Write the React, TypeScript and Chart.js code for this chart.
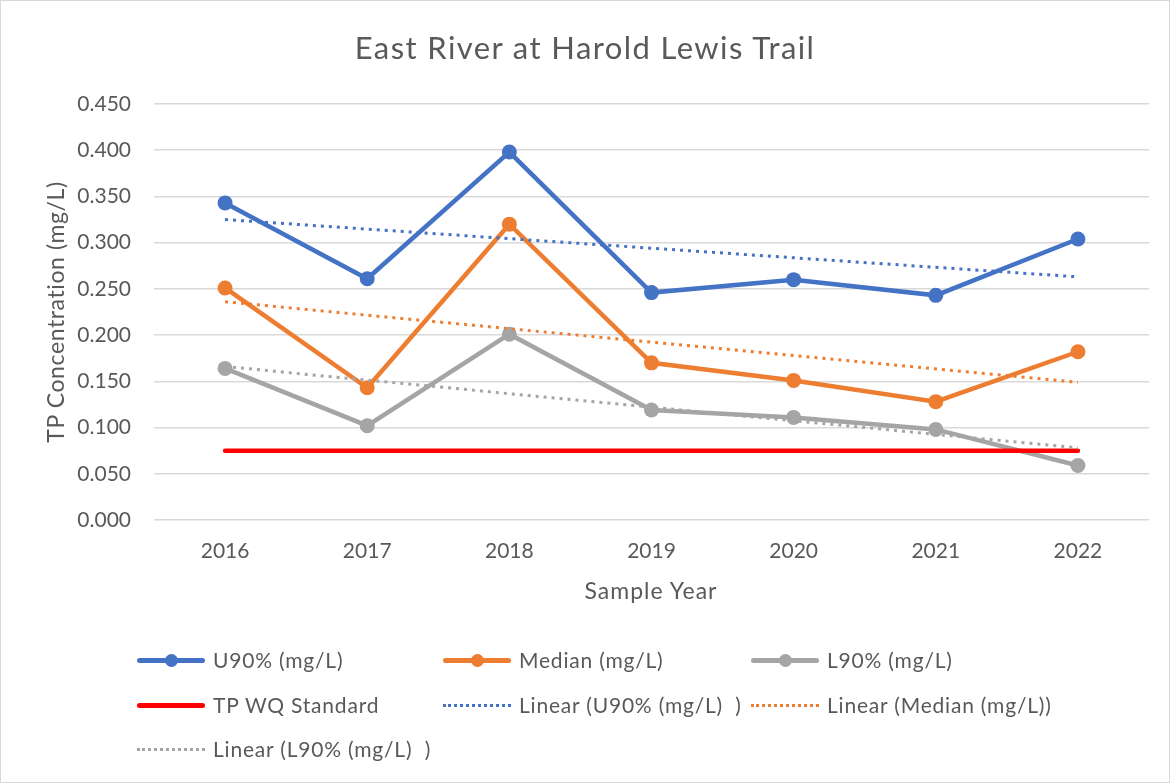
import React, { useEffect, useRef } from "react";
import { Chart, registerables } from "chart.js";

Chart.register(...registerables);

const years = ["2016", "2017", "2018", "2019", "2020", "2021", "2022"];
const u90 = [0.343, 0.261, 0.398, 0.246, 0.26, 0.243, 0.304];
const median = [0.251, 0.143, 0.32, 0.17, 0.151, 0.128, 0.182];
const l90 = [0.164, 0.102, 0.201, 0.119, 0.111, 0.098, 0.059];
const standard = [0.075, 0.075, 0.075, 0.075, 0.075, 0.075, 0.075];
const u90Trend = [0.325, null, null, null, null, null, 0.263];
const medianTrend = [0.236, null, null, null, null, null, 0.149];
const l90Trend = [0.166, null, null, null, null, null, 0.078];
const yTicks = [0, 0.05, 0.1, 0.15, 0.2, 0.25, 0.3, 0.35, 0.4, 0.45];

const chartTitle = "East River at Harold Lewis Trail";
const xTitle = "Sample Year";
const yTitle = "TP Concentration (mg/L)";

const names = [
  "U90% (mg/L)",
  "Median (mg/L)",
  "L90% (mg/L)",
  "TP WQ Standard",
  "Linear (U90% (mg/L)  )",
  "Linear (Median (mg/L))",
  "Linear (L90% (mg/L)  )",
];
const colors = ["#4472C4", "#ED7D31", "#A5A5A5", "#FF0000", "#4472C4", "#ED7D31", "#A5A5A5"];
const kinds = ["marker", "marker", "marker", "solid", "dotted", "dotted", "dotted"];

const FONT = "Lato, 'Open Sans', sans-serif";
const TEXT = "#595959";

export default function App() {
  const ref = useRef<HTMLCanvasElement | null>(null);

  useEffect(() => {
    document.body.style.margin = "0";
    const canvas = ref.current;
    if (!canvas) return;
    const mainLine = (i: number, data: number[], order: number) => ({
      label: names[i],
      data,
      borderColor: colors[i],
      backgroundColor: colors[i],
      borderWidth: 4.5,
      pointRadius: 7.5,
      pointHoverRadius: 7.5,
      pointBorderWidth: 0,
      pointBackgroundColor: colors[i],
      tension: 0,
      order,
    });
    const trend = (i: number, data: (number | null)[]) => ({
      label: names[i],
      data,
      borderColor: colors[i],
      backgroundColor: colors[i],
      borderWidth: 3,
      borderDash: [3, 5],
      pointRadius: 0,
      spanGaps: true,
      tension: 0,
      order: 0,
    });
    const chart = new Chart(canvas, {
      type: "line",
      data: {
        labels: years,
        datasets: [
          mainLine(0, u90, 5),
          mainLine(1, median, 4),
          mainLine(2, l90, 3),
          {
            label: names[3],
            data: standard,
            borderColor: colors[3],
            backgroundColor: colors[3],
            borderWidth: 4.5,
            borderCapStyle: "round",
            pointRadius: 0,
            tension: 0,
            order: 2,
          },
          trend(4, u90Trend),
          trend(5, medianTrend),
          trend(6, l90Trend),
        ] as any,
      },
      options: {
        responsive: false,
        animation: false,
        layout: { padding: { top: 104, left: 0, right: 21, bottom: 180 } },
        plugins: {
          legend: { display: false },
          title: { display: false },
          tooltip: { enabled: false },
        },
        scales: {
          x: {
            offset: true,
            grid: { display: false, drawTicks: false },
            border: { display: false },
            ticks: { color: TEXT, font: { family: FONT, size: 21 }, padding: 19 },
            afterFit: (s: any) => {
              s.height = 83;
            },
          },
          y: {
            min: 0,
            max: 0.45,
            grid: { color: "#D9D9D9", lineWidth: 1.5, drawTicks: false },
            border: { display: false },
            afterBuildTicks: (s: any) => {
              s.ticks = yTicks.map((v) => ({ value: v }));
            },
            ticks: {
              color: TEXT,
              font: { family: FONT, size: 21 },
              padding: 23,
              callback: (v: any) => Number(v).toFixed(3),
            },
            afterFit: (s: any) => {
              s.width = 154;
            },
          },
        },
      },
    });
    return () => chart.destroy();
  }, []);

  const colX = [137, 443, 751];
  const rowY = [660, 705, 749];

  return (
    <div style={{ position: "absolute", left: 0, top: 0, width: 1170, height: 783, background: "#fff", fontFamily: FONT }}>
      <canvas ref={ref} width={1170} height={783} style={{ position: "absolute", left: 0, top: 0, width: 1170, height: 783 }} />
      <div
        style={{
          position: "absolute",
          left: 0,
          top: 47 - 18,
          width: 1170,
          height: 36,
          textAlign: "center",
          color: TEXT,
          fontSize: 31,
          lineHeight: "36px",
          letterSpacing: "1.4px",
        }}
      >
        {chartTitle}
      </div>
      <div
        style={{
          position: "absolute",
          left: 351,
          top: 590 - 14,
          width: 600,
          height: 28,
          textAlign: "center",
          color: TEXT,
          fontSize: 23,
          lineHeight: "28px",
          letterSpacing: "1px",
        }}
      >
        {xTitle}
      </div>
      <div
        style={{
          position: "absolute",
          left: 55 - 200,
          top: 312 - 14,
          width: 400,
          height: 28,
          textAlign: "center",
          color: TEXT,
          fontSize: 23,
          lineHeight: "28px",
          letterSpacing: "0.6px",
          transform: "rotate(-90deg)",
          whiteSpace: "pre",
        }}
      >
        {yTitle}
      </div>
      {names.map((n, i) => {
        const x = colX[i % 3];
        const y = rowY[Math.floor(i / 3)];
        const k = kinds[i];
        return (
          <div key={n} style={{ position: "absolute", left: x, top: y - 14, height: 28, width: 320 }}>
            {k === "dotted" ? (
              <div style={{ position: "absolute", left: 0, top: 12.5, width: 68, height: 0, borderTop: `3px dotted ${colors[i]}` }} />
            ) : (
              <div style={{ position: "absolute", left: 0, top: 11.5, width: 68, height: 5, background: colors[i], borderRadius: 2.5 }} />
            )}
            {k === "marker" ? (
              <div style={{ position: "absolute", left: 27.5, top: 7.5, width: 13, height: 13, borderRadius: "50%", background: colors[i] }} />
            ) : null}
            <div style={{ position: "absolute", left: 76, top: 0, lineHeight: "28px", fontSize: 21, color: TEXT, whiteSpace: "pre", letterSpacing: "0.8px" }}>{n}</div>
          </div>
        );
      })}
      <div style={{ position: "absolute", left: 0, top: 0, width: 1170, height: 783, boxSizing: "border-box", border: "1px solid #D9D9D9", pointerEvents: "none" }} />
    </div>
  );
}
